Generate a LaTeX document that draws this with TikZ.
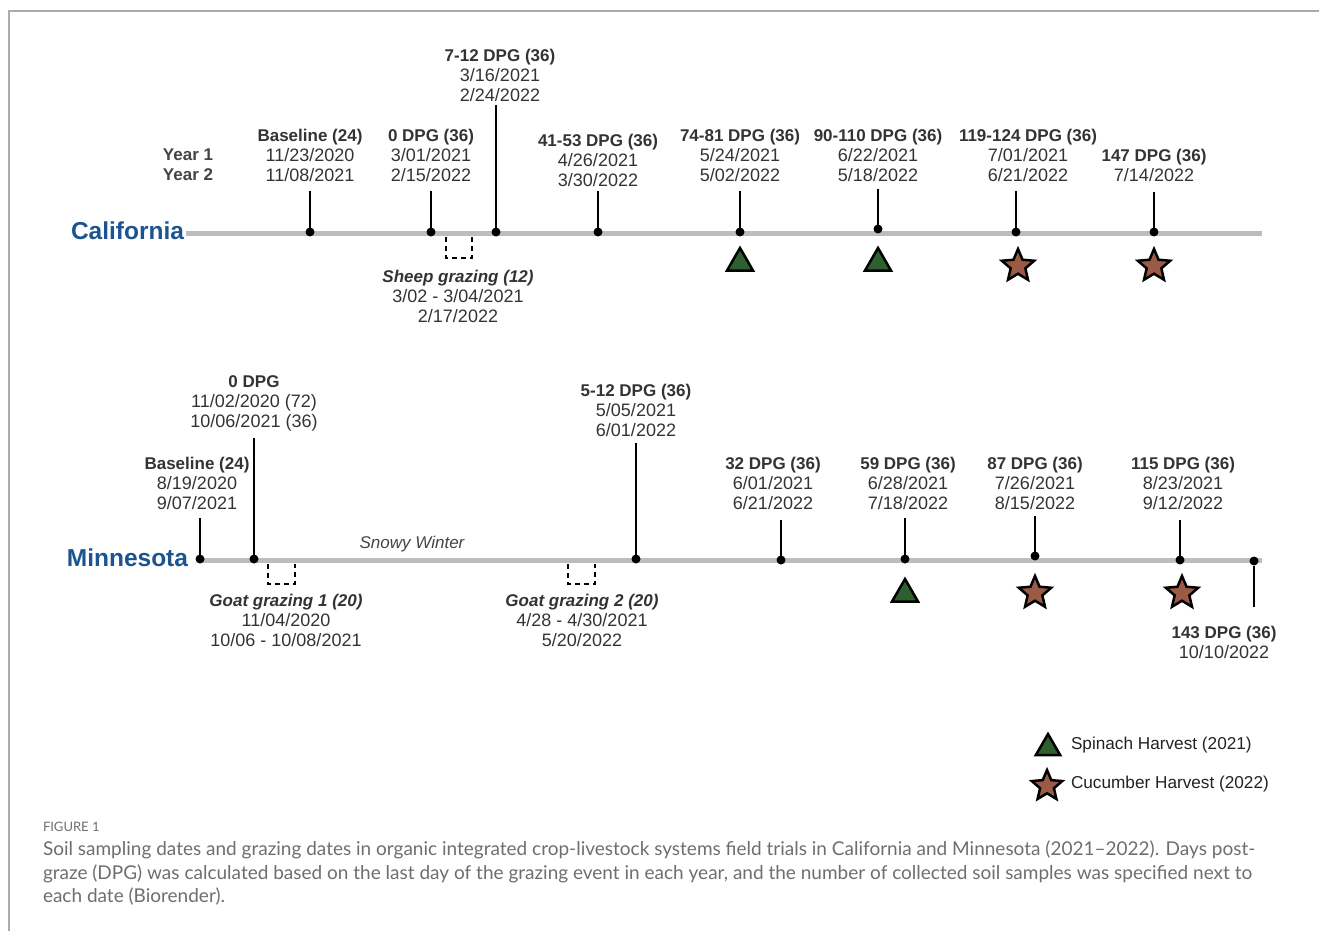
\documentclass[tikz,border=0pt]{standalone}
\usepackage{fontspec}
\setmainfont{Liberation Sans}
\newfontfamily\capfont{Lato}
\usetikzlibrary{shapes.geometric}
\definecolor{tl}{HTML}{BDBDBD}
\definecolor{stateblue}{HTML}{1B5490}
\definecolor{txt}{HTML}{333333}
\definecolor{lbl}{HTML}{222222}
\definecolor{yr}{HTML}{444444}
\definecolor{spin}{HTML}{2F5F2F}
\definecolor{cuc}{HTML}{9A5A45}
\definecolor{capc}{HTML}{6E6E6E}
\definecolor{framec}{HTML}{ABABAB}
\newcommand{\hd}[1]{{\fontsize{17}{20}\selectfont\bfseries #1}}
\begin{document}
\begin{tikzpicture}[x=1pt,y=-1pt,
  every node/.style={inner sep=0pt,outer sep=0pt},
  lab/.style={align=center,font=\fontsize{18}{20}\selectfont,text=txt},
  state/.style={font=\bfseries\fontsize{24.5}{28}\selectfont,text=stateblue},
  tline/.style={line width=5pt,draw=tl},
  stick/.style={line width=2pt,draw=black},
  dot/.style={circle,fill=black,minimum size=9pt},
  graze/.style={line width=2pt,dash pattern=on 5pt off 4pt},
  spinach/.style={regular polygon,regular polygon sides=3,minimum size=30pt,fill=spin,draw=black,line width=2.5pt},
  cucumber/.style={star,star points=5,star point ratio=2.2,minimum size=34pt,fill=cuc,draw=black,line width=2.5pt},
  legtext/.style={anchor=west,font=\fontsize{17.2}{20}\selectfont,text=lbl},
  captext/.style={anchor=west,font=\capfont\fontsize{19}{22}\selectfont,text=capc}
]
\useasboundingbox (0,0) rectangle (1319,931);
% frame
\draw[framec,line width=2pt] (9,931) -- (9,11) -- (1319,11);

% ================= California =================
\node[state,anchor=east] (cal) at (184,231) {California};
\coordinate (calS) at (186,233);
\coordinate (calE) at (1262,233);
\draw[tline] (calS) -- (calE);

\node[lab,font=\bfseries\fontsize{17}{20}\selectfont,text=yr] (years) at (188,165) {Year 1\\Year 2};

% Baseline
\node[dot] (c1) at (310,232) {};
\coordinate (c1t) at (310,191);
\draw[stick] (c1t) -- (c1);
\node[lab] (c1l) at (310,155) {\hd{Baseline (24)}\\11/23/2020\\11/08/2021};

% 0 DPG
\node[dot] (c2) at (431,232) {};
\coordinate (c2t) at (431,191);
\draw[stick] (c2t) -- (c2);
\node[lab] (c2l) at (431,155) {\hd{0 DPG (36)}\\3/01/2021\\2/15/2022};

% 7-12 DPG
\node[dot] (c3) at (496,232) {};
\coordinate (c3t) at (496,105);
\draw[stick] (c3t) -- (c3);
\node[lab] (c3l) at (500,75) {\hd{7-12 DPG (36)}\\3/16/2021\\2/24/2022};

% sheep grazing
\coordinate (g0a) at (446,237);
\coordinate (g0b) at (472,237);
\draw[graze] (g0a) -- (446,258) -- (472,258) -- (g0b);
\node[lab] (g0l) at (458,296) {\hd{\itshape Sheep grazing (12)}\\3/02 - 3/04/2021\\2/17/2022};

% 41-53 DPG
\node[dot] (c4) at (598,232) {};
\coordinate (c4t) at (598,191);
\draw[stick] (c4t) -- (c4);
\node[lab] (c4l) at (598,160) {\hd{41-53 DPG (36)}\\4/26/2021\\3/30/2022};

% 74-81 DPG
\node[dot] (c5) at (740,232) {};
\coordinate (c5t) at (740,191);
\draw[stick] (c5t) -- (c5);
\node[lab] (c5l) at (740,155) {\hd{74-81 DPG (36)}\\5/24/2021\\5/02/2022};
\node[spinach] (c5m) at (740,263) {};

% 90-110 DPG
\node[dot] (c6) at (878,229) {};
\coordinate (c6t) at (878,189);
\draw[stick] (c6t) -- (c6);
\node[lab] (c6l) at (878,155) {\hd{90-110 DPG (36)}\\6/22/2021\\5/18/2022};
\node[spinach] (c6m) at (878,263) {};

% 119-124 DPG
\node[dot] (c7) at (1016,232) {};
\coordinate (c7t) at (1016,191);
\draw[stick] (c7t) -- (c7);
\node[lab] (c7l) at (1028,155) {\hd{119-124 DPG (36)}\\7/01/2021\\6/21/2022};
\node[cucumber] (c7m) at (1018,266) {};

% 147 DPG
\node[dot] (c8) at (1154,232) {};
\coordinate (c8t) at (1154,192);
\draw[stick] (c8t) -- (c8);
\node[lab] (c8l) at (1154,165) {\hd{147 DPG (36)}\\7/14/2022};
\node[cucumber] (c8m) at (1154,266) {};

% ================= Minnesota =================
\node[state,anchor=east] (min) at (188,558) {Minnesota};
\coordinate (minS) at (200,560);
\coordinate (minE) at (1262,560);
\draw[tline] (minS) -- (minE);

% Baseline
\node[dot] (m1) at (200,559) {};
\coordinate (m1t) at (200,518);
\draw[stick] (m1t) -- (m1);
\node[lab] (m1l) at (197,483) {\hd{Baseline (24)}\\8/19/2020\\9/07/2021};

% 0 DPG
\node[dot] (m2) at (254,559) {};
\coordinate (m2t) at (254,438);
\draw[stick] (m2t) -- (m2);
\node[lab] (m2l) at (254,403) {\hd{0 DPG}\\11/02/2020 (72)\\10/06/2021 (36)};

% goat grazing 1
\coordinate (g1a) at (268,564);
\coordinate (g1b) at (295,564);
\draw[graze] (g1a) -- (268,584) -- (295,584) -- (g1b);
\node[lab] (g1l) at (286,620) {\hd{\itshape Goat grazing 1 (20)}\\11/04/2020\\10/06 - 10/08/2021};

\node[lab,font=\itshape\fontsize{17}{20}\selectfont,text=yr] (snow) at (412,544) {Snowy Winter};

% goat grazing 2
\coordinate (g2a) at (568,564);
\coordinate (g2b) at (595,564);
\draw[graze] (g2a) -- (568,584) -- (595,584) -- (g2b);
\node[lab] (g2l) at (582,620) {\hd{\itshape Goat grazing 2 (20)}\\4/28 - 4/30/2021\\5/20/2022};

% 5-12 DPG
\node[dot] (m3) at (636,559) {};
\coordinate (m3t) at (636,443);
\draw[stick] (m3t) -- (m3);
\node[lab] (m3l) at (636,410) {\hd{5-12 DPG (36)}\\5/05/2021\\6/01/2022};

% 32 DPG
\node[dot] (m4) at (781,560) {};
\coordinate (m4t) at (781,520);
\draw[stick] (m4t) -- (m4);
\node[lab] (m4l) at (773,483) {\hd{32 DPG (36)}\\6/01/2021\\6/21/2022};

% 59 DPG
\node[dot] (m5) at (905,559) {};
\coordinate (m5t) at (905,518);
\draw[stick] (m5t) -- (m5);
\node[lab] (m5l) at (908,483) {\hd{59 DPG (36)}\\6/28/2021\\7/18/2022};
\node[spinach] (m5m) at (905,594) {};

% 87 DPG
\node[dot] (m6) at (1035,556) {};
\coordinate (m6t) at (1035,516);
\draw[stick] (m6t) -- (m6);
\node[lab] (m6l) at (1035,483) {\hd{87 DPG (36)}\\7/26/2021\\8/15/2022};
\node[cucumber] (m6m) at (1035,593) {};

% 115 DPG
\node[dot] (m7) at (1180,560) {};
\coordinate (m7t) at (1180,520);
\draw[stick] (m7t) -- (m7);
\node[lab] (m7l) at (1183,483) {\hd{115 DPG (36)}\\8/23/2021\\9/12/2022};
\node[cucumber] (m7m) at (1182,593) {};

% 143 DPG
\node[dot] (m8) at (1254,561) {};
\coordinate (m8b) at (1254,607);
\draw[stick] (m8) -- (m8b);
\node[lab] (m8l) at (1224,642) {\hd{143 DPG (36)}\\10/10/2022};

% ================= Legend =================
\node[spinach,minimum size=28pt] (leg1) at (1048,748) {};
\node[legtext] (leg1t) at (1071,745) {Spinach Harvest (2021)};
\node[cucumber,minimum size=32pt] (leg2) at (1047,786) {};
\node[legtext] (leg2t) at (1071,784) {Cucumber Harvest (2022)};

% ================= Caption =================
\node[anchor=west,font=\capfont\fontsize{13}{16}\selectfont,text=capc] (fig) at (43,827) {FIGURE 1};
\node[captext] (cap1) at (43,850) {Soil sampling dates and grazing dates in organic integrated crop-livestock systems field trials in California and Minnesota (2021–2022). Days post-};
\node[captext] (cap2) at (43,874) {graze (DPG) was calculated based on the last day of the grazing event in each year, and the number of collected soil samples was specified next to};
\node[captext] (cap3) at (43,897) {each date (Biorender).};
\end{tikzpicture}
\end{document}
